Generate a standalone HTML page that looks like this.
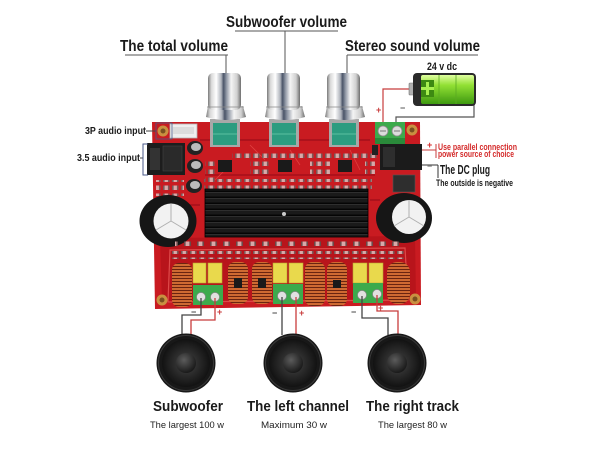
<!DOCTYPE html>
<html><head><meta charset="utf-8"><style>
html,body{margin:0;padding:0;background:#fff;}
svg{display:block}
text{font-family:"Liberation Sans",sans-serif;}
</style></head><body>
<svg width="600" height="450" viewBox="0 0 600 450" xmlns="http://www.w3.org/2000/svg">
<defs>
 <linearGradient id="chrome" x1="0" x2="1" y1="0" y2="0">
  <stop offset="0" stop-color="#7a7a7a"/>
  <stop offset="0.1" stop-color="#d8d8d8"/>
  <stop offset="0.25" stop-color="#ffffff"/>
  <stop offset="0.4" stop-color="#b0b4bc"/>
  <stop offset="0.47" stop-color="#4a5468"/>
  <stop offset="0.55" stop-color="#8a92a0"/>
  <stop offset="0.7" stop-color="#f4f4f4"/>
  <stop offset="0.88" stop-color="#d0d0d0"/>
  <stop offset="1" stop-color="#6e6e6e"/>
 </linearGradient>
 <radialGradient id="cone" cx="0.5" cy="0.5" r="0.5">
  <stop offset="0" stop-color="#555"/>
  <stop offset="0.45" stop-color="#2e2e2e"/>
  <stop offset="1" stop-color="#121212"/>
 </radialGradient>
 <radialGradient id="cap" cx="0.4" cy="0.35" r="0.7">
  <stop offset="0" stop-color="#5c5c5c"/>
  <stop offset="1" stop-color="#151515"/>
 </radialGradient>
 <linearGradient id="batt" x1="0" x2="0" y1="0" y2="1">
  <stop offset="0" stop-color="#e0ffa0"/>
  <stop offset="0.35" stop-color="#92e034"/>
  <stop offset="1" stop-color="#3e9a10"/>
 </linearGradient>
 <pattern id="smd" width="9" height="8" patternUnits="userSpaceOnUse">
  <rect x="1" y="1.5" width="6.5" height="4.5" fill="#d8a8a8"/>
  <rect x="1" y="1.5" width="1.6" height="4.5" fill="#7a5a5a"/>
  <rect x="5.9" y="1.5" width="1.6" height="4.5" fill="#7a5a5a"/>
 </pattern>
 <pattern id="smd2" width="13" height="8" patternUnits="userSpaceOnUse">
  <rect x="2" y="1.5" width="7" height="4.5" fill="#d8a8a8"/>
  <rect x="2" y="1.5" width="1.6" height="4.5" fill="#6a4a4a"/>
  <rect x="7.4" y="1.5" width="1.6" height="4.5" fill="#6a4a4a"/>
 </pattern>
 <pattern id="coil" width="4" height="3" patternUnits="userSpaceOnUse">
  <rect width="4" height="3" fill="#cf6a32"/>
  <rect y="2" width="4" height="1" fill="#6a2410"/>
 </pattern>
 <pattern id="fins" width="10" height="6" patternUnits="userSpaceOnUse">
  <rect width="10" height="6" fill="#1a1a1a"/>
  <rect y="4.5" width="10" height="1.5" fill="#050505"/>
  <rect y="0" width="10" height="0.8" fill="#333"/>
 </pattern>
</defs>

<rect width="600" height="450" fill="#fff"/>

<!-- Top labels -->
<text x="226" y="27" font-size="16" font-weight="bold" fill="#1a1a1a" textLength="121" lengthAdjust="spacingAndGlyphs">Subwoofer volume</text>
<line x1="235" y1="31" x2="338" y2="31" stroke="#555" stroke-width="1"/>
<line x1="285" y1="31" x2="285" y2="74" stroke="#555" stroke-width="1"/>
<text x="120" y="51" font-size="16" font-weight="bold" fill="#1a1a1a" textLength="108" lengthAdjust="spacingAndGlyphs">The total volume</text>
<line x1="125" y1="55" x2="228" y2="55" stroke="#555" stroke-width="1"/>
<line x1="226" y1="55" x2="226" y2="74" stroke="#555" stroke-width="1"/>
<text x="345" y="51" font-size="16" font-weight="bold" fill="#1a1a1a" textLength="135" lengthAdjust="spacingAndGlyphs">Stereo sound volume</text>
<line x1="347" y1="55" x2="478" y2="55" stroke="#555" stroke-width="1"/>
<line x1="347" y1="55" x2="347" y2="74" stroke="#555" stroke-width="1"/>

<!-- battery -->
<text x="427" y="70" font-size="11" font-weight="bold" fill="#1a1a1a" textLength="30" lengthAdjust="spacingAndGlyphs">24 v dc</text>
<polyline points="413,89 383,89 383,128" fill="none" stroke="#c83c3c" stroke-width="1.2"/>
<polyline points="475,90 474,90 474,117 396,117 396,128" fill="none" stroke="#555" stroke-width="1.2"/>
<rect x="409" y="83" width="6" height="12" rx="1" fill="#b0b0b0" stroke="#777" stroke-width="0.6"/>
<rect x="413" y="73" width="63" height="33" rx="4" fill="#2a2a2a"/>
<rect x="421" y="75" width="53" height="29" rx="2" fill="url(#batt)"/>
<rect x="421" y="80" width="13" height="17" fill="#3d8a12"/>
<rect x="426" y="82" width="3" height="13" fill="#a8f050"/>
<rect x="421" y="87" width="13" height="3" fill="#a8f050"/>
<line x1="439" y1="75" x2="439" y2="104" stroke="#5aaa22" stroke-width="0.8"/>
<line x1="456" y1="75" x2="456" y2="104" stroke="#5aaa22" stroke-width="0.8"/>
<line x1="421" y1="98" x2="474" y2="98" stroke="#5aaa22" stroke-width="0.6"/>
<text x="376" y="113" font-size="9" font-weight="bold" fill="#c83c3c">+</text>
<text x="400" y="111" font-size="9" font-weight="bold" fill="#555">−</text>

<!-- Board -->
<polygon points="152,122 420,122 421,305 155,309" fill="#c91b21"/>
<polygon points="160,238 415,236 416,300 162,303" fill="#b8141b"/>
<path d="M170,250 L405,248 L408,300 L168,302 Z" fill="none" stroke="#de4a4a" stroke-width="1.2"/>
<path d="M200,140 L370,140 M205,175 L375,175 M175,205 L200,205 M370,200 L380,200" stroke="#a5101a" stroke-width="1.5" fill="none"/>
<path d="M230,165 L215,180 M290,150 L300,165 M350,150 L360,170 M250,145 L265,160" stroke="#e04040" stroke-width="0.8" fill="none"/>

<!-- top connectors -->
<rect x="170" y="124" width="27" height="14" fill="#eeeeee" stroke="#b5b5b5" stroke-width="0.8"/>
<rect x="173" y="127" width="21" height="7" fill="#dcdcdc"/>
<rect x="147" y="143" width="38" height="32" fill="#1d1d1d"/>
<rect x="150" y="148" width="10" height="22" fill="#333"/>
<rect x="163" y="146" width="19" height="25" fill="#2a2a2a" stroke="#444" stroke-width="0.6"/>
<!-- small caps left -->
<ellipse cx="195" cy="148" rx="8" ry="7" fill="#222"/><ellipse cx="196" cy="147" rx="5" ry="4" fill="#bbb"/>
<ellipse cx="195" cy="166" rx="8" ry="7" fill="#222"/><ellipse cx="196" cy="165" rx="5" ry="4" fill="#bbb"/>
<ellipse cx="194" cy="186" rx="8" ry="7" fill="#222"/><ellipse cx="195" cy="185" rx="5" ry="4" fill="#bbb"/>
<rect x="156" y="180" width="28" height="16" fill="url(#smd)"/>

<!-- SMD rows -->
<rect x="232" y="150" width="146" height="9" fill="url(#smd)"/>
<rect x="204" y="179" width="168" height="10" fill="url(#smd)"/>
<rect x="205" y="160" width="10" height="20" fill="url(#smd)"/>
<rect x="250" y="160" width="20" height="14" fill="url(#smd)"/>
<rect x="310" y="160" width="20" height="14" fill="url(#smd)"/>
<rect x="365" y="158" width="10" height="18" fill="url(#smd)"/>
<!-- chips -->
<rect x="218" y="160" width="14" height="12" fill="#1a1a1a"/>
<rect x="278" y="160" width="14" height="12" fill="#1a1a1a"/>
<rect x="338" y="160" width="14" height="12" fill="#1a1a1a"/>

<!-- top terminal & DC jack -->
<rect x="375" y="122" width="30" height="22" fill="#3caa4c"/>
<rect x="375" y="138" width="30" height="6" fill="#2a8a3a"/>
<circle cx="383" cy="131" r="5" fill="#dcdcdc" stroke="#888" stroke-width="0.8"/>
<circle cx="397" cy="131" r="5" fill="#dcdcdc" stroke="#888" stroke-width="0.8"/>
<line x1="380" y1="131" x2="386" y2="131" stroke="#777"/>
<line x1="394" y1="131" x2="400" y2="131" stroke="#777"/>
<rect x="380" y="144" width="42" height="26" fill="#1b1b1b"/>
<rect x="383" y="147" width="12" height="20" fill="#2e2e2e"/>
<rect x="393" y="175" width="22" height="17" fill="#2e2e2e" stroke="#555" stroke-width="0.6"/>
<rect x="372" y="145" width="6" height="10" fill="#222"/>

<!-- standoffs -->
<circle cx="163" cy="131" r="5.5" fill="#c99040"/><circle cx="163" cy="131" r="2.5" fill="#7a5020"/>
<circle cx="412" cy="130" r="5.5" fill="#c99040"/><circle cx="412" cy="130" r="2.5" fill="#7a5020"/>
<circle cx="162" cy="300" r="5.5" fill="#c99040"/><circle cx="162" cy="300" r="2.5" fill="#7a5020"/>
<circle cx="415" cy="299" r="5.5" fill="#c99040"/><circle cx="415" cy="299" r="2.5" fill="#7a5020"/>

<!-- heatsink -->
<rect x="205" y="189" width="163" height="48" fill="url(#fins)"/>
<rect x="205" y="189" width="163" height="48" fill="none" stroke="#000" stroke-width="0.8"/>
<circle cx="284" cy="214" r="2" fill="#ccc"/>

<!-- big caps -->
<ellipse cx="168" cy="221" rx="28.5" ry="26" fill="#161616"/>
<circle cx="171" cy="221" r="17.5" fill="#f2f2f2"/>
<path d="M171,221 L171,204 M171,221 L156,230 M171,221 L186,230" stroke="#b0b0b0" stroke-width="1"/>
<ellipse cx="404" cy="218" rx="28" ry="25" fill="#161616"/>
<circle cx="409" cy="217" r="17" fill="#f2f2f2"/>
<path d="M409,217 L409,200 M409,217 L394,226 M409,217 L424,226" stroke="#b0b0b0" stroke-width="1"/>

<!-- bottom SMD -->
<rect x="175" y="241" width="225" height="8" fill="url(#smd2)"/>
<rect x="172" y="251" width="232" height="8" fill="url(#smd)"/>

<!-- coils -->
<rect x="172" y="263" width="20" height="44" rx="7" fill="url(#coil)"/>
<rect x="228" y="262" width="20" height="42" rx="7" fill="url(#coil)"/>
<rect x="234" y="278" width="8" height="10" fill="#1a1a1a"/>
<rect x="252" y="262" width="20" height="42" rx="7" fill="url(#coil)"/>
<rect x="258" y="278" width="8" height="10" fill="#1a1a1a"/>
<rect x="305" y="262" width="20" height="44" rx="7" fill="url(#coil)"/>
<rect x="327" y="262" width="20" height="44" rx="7" fill="url(#coil)"/>
<rect x="333" y="280" width="8" height="8" fill="#1a1a1a"/>
<rect x="387" y="262" width="23" height="42" rx="10" fill="url(#coil)"/>

<!-- yellow caps -->
<rect x="193" y="263" width="13" height="20" fill="#e9d94c" stroke="#b8a830" stroke-width="0.6"/>
<rect x="208" y="263" width="14" height="20" fill="#e9d94c" stroke="#b8a830" stroke-width="0.6"/>
<rect x="273" y="263" width="14" height="20" fill="#e9d94c" stroke="#b8a830" stroke-width="0.6"/>
<rect x="289" y="263" width="14" height="20" fill="#e9d94c" stroke="#b8a830" stroke-width="0.6"/>
<rect x="353" y="263" width="14" height="20" fill="#e9d94c" stroke="#b8a830" stroke-width="0.6"/>
<rect x="369" y="263" width="14" height="20" fill="#e9d94c" stroke="#b8a830" stroke-width="0.6"/>

<!-- bottom terminals -->
<rect x="193" y="285" width="30" height="20" fill="#3caa4c"/>
<rect x="273" y="284" width="30" height="20" fill="#3caa4c"/>
<rect x="353" y="283" width="30" height="20" fill="#3caa4c"/>
<circle cx="201" cy="297" r="4.5" fill="#e0e0e0" stroke="#888" stroke-width="0.7"/>
<circle cx="215" cy="297" r="4.5" fill="#e0e0e0" stroke="#888" stroke-width="0.7"/>
<circle cx="282" cy="296" r="4.5" fill="#e0e0e0" stroke="#888" stroke-width="0.7"/>
<circle cx="295" cy="296" r="4.5" fill="#e0e0e0" stroke="#888" stroke-width="0.7"/>
<circle cx="362" cy="295" r="4.5" fill="#e0e0e0" stroke="#888" stroke-width="0.7"/>
<circle cx="377" cy="294" r="4.5" fill="#e0e0e0" stroke="#888" stroke-width="0.7"/>

<!-- pots -->
<g>
 <rect x="210" y="119" width="30" height="28" fill="#a8a8a8"/><rect x="213" y="123" width="24" height="22" fill="#2c9c80"/><line x1="213" y1="134" x2="237" y2="134" stroke="#5ac0a0" stroke-width="1"/>
 <rect x="269" y="119" width="30" height="28" fill="#a8a8a8"/><rect x="272" y="123" width="24" height="22" fill="#2c9c80"/><line x1="272" y1="134" x2="296" y2="134" stroke="#5ac0a0" stroke-width="1"/>
 <rect x="329" y="119" width="30" height="28" fill="#a8a8a8"/><rect x="332" y="123" width="24" height="22" fill="#2c9c80"/><line x1="332" y1="134" x2="356" y2="134" stroke="#5ac0a0" stroke-width="1"/>
</g>
<!-- knobs -->
<g id="k1">
 <path d="M208,106 L206,117 Q226,123 246,117 L243,106 Z" fill="url(#chrome)"/>
 <rect x="208" y="73" width="33" height="37" rx="5" fill="url(#chrome)"/>
 <line x1="207" y1="107" x2="244" y2="107" stroke="#8a8a8a" stroke-width="0.8"/>
</g>
<g transform="translate(59,0)">
 <path d="M208,106 L206,117 Q226,123 246,117 L243,106 Z" fill="url(#chrome)"/>
 <rect x="208" y="73" width="33" height="37" rx="5" fill="url(#chrome)"/>
 <line x1="207" y1="107" x2="244" y2="107" stroke="#8a8a8a" stroke-width="0.8"/>
</g>
<g transform="translate(119,0)">
 <path d="M208,106 L206,117 Q226,123 246,117 L243,106 Z" fill="url(#chrome)"/>
 <rect x="208" y="73" width="33" height="37" rx="5" fill="url(#chrome)"/>
 <line x1="207" y1="107" x2="244" y2="107" stroke="#8a8a8a" stroke-width="0.8"/>
</g>

<!-- left labels -->
<text x="85" y="134" font-size="10.5" font-weight="bold" fill="#1a1a1a" textLength="61" lengthAdjust="spacingAndGlyphs">3P audio input</text>
<line x1="146" y1="131" x2="156" y2="131" stroke="#444" stroke-width="1"/>
<rect x="156" y="123" width="16" height="16" fill="none" stroke="#4a5a8a" stroke-width="0.8"/>
<text x="77" y="161" font-size="10.5" font-weight="bold" fill="#1a1a1a" textLength="63" lengthAdjust="spacingAndGlyphs">3.5 audio input</text>
<line x1="140" y1="158" x2="143" y2="158" stroke="#444" stroke-width="1"/>
<polyline points="148,144 143,144 143,175 148,175" fill="none" stroke="#4a5a8a" stroke-width="1"/>

<!-- right labels -->
<line x1="422" y1="150" x2="436" y2="150" stroke="#c83c3c" stroke-width="1"/>
<line x1="436" y1="144" x2="436" y2="158" stroke="#c83c3c" stroke-width="1"/>
<text x="427" y="148" font-size="9" font-weight="bold" fill="#d42a2a">+</text>
<text x="438" y="150" font-size="9" font-weight="bold" fill="#d42a2a" textLength="79" lengthAdjust="spacingAndGlyphs">Use parallel connection</text>
<text x="438" y="157" font-size="9" font-weight="bold" fill="#d42a2a" textLength="76" lengthAdjust="spacingAndGlyphs">power source of choice</text>
<line x1="422" y1="165" x2="438" y2="165" stroke="#333" stroke-width="1"/>
<line x1="438" y1="165" x2="438" y2="178" stroke="#333" stroke-width="1"/>
<text x="427" y="169" font-size="9" fill="#444">−</text>
<text x="440" y="174" font-size="13" font-weight="bold" fill="#1a1a1a" textLength="50" lengthAdjust="spacingAndGlyphs">The DC plug</text>
<text x="436" y="186" font-size="9" font-weight="bold" fill="#1a1a1a" textLength="77" lengthAdjust="spacingAndGlyphs">The outside is negative</text>

<!-- speaker wires -->
<polyline points="201,298 201,315 182,315 182,335" fill="none" stroke="#444" stroke-width="1.3"/>
<polyline points="215,298 215,320 191,320 191,335" fill="none" stroke="#c83c3c" stroke-width="1.3"/>
<polyline points="282,297 282,335" fill="none" stroke="#444" stroke-width="1.3"/>
<polyline points="296,297 296,335" fill="none" stroke="#c83c3c" stroke-width="1.3"/>
<polyline points="362,296 362,318 388,318 388,335" fill="none" stroke="#444" stroke-width="1.3"/>
<polyline points="377,295 377,311 398,311 398,335" fill="none" stroke="#c83c3c" stroke-width="1.3"/>
<text x="191" y="315" font-size="9" font-weight="bold" fill="#444">−</text>
<text x="217" y="315" font-size="9" font-weight="bold" fill="#c83c3c">+</text>
<text x="272" y="316" font-size="9" font-weight="bold" fill="#444">−</text>
<text x="299" y="316" font-size="9" font-weight="bold" fill="#c83c3c">+</text>
<text x="351" y="315" font-size="9" font-weight="bold" fill="#444">−</text>
<text x="378" y="311" font-size="9" font-weight="bold" fill="#c83c3c">+</text>

<!-- speakers -->
<g transform="translate(186,363)">
 <circle r="29.5" fill="#181818"/><circle r="27.5" fill="none" stroke="#3a3a3a" stroke-width="1"/>
 <circle r="24" fill="url(#cone)"/><circle r="10" fill="url(#cap)"/>
</g>
<g transform="translate(293,363)">
 <circle r="29.5" fill="#181818"/><circle r="27.5" fill="none" stroke="#3a3a3a" stroke-width="1"/>
 <circle r="24" fill="url(#cone)"/><circle r="10" fill="url(#cap)"/>
</g>
<g transform="translate(397,363)">
 <circle r="29.5" fill="#181818"/><circle r="27.5" fill="none" stroke="#3a3a3a" stroke-width="1"/>
 <circle r="24" fill="url(#cone)"/><circle r="10" fill="url(#cap)"/>
</g>

<!-- bottom labels -->
<text x="153" y="411" font-size="15" font-weight="bold" fill="#1a1a1a" textLength="70" lengthAdjust="spacingAndGlyphs">Subwoofer</text>
<text x="247" y="411" font-size="15" font-weight="bold" fill="#1a1a1a" textLength="102" lengthAdjust="spacingAndGlyphs">The left channel</text>
<text x="366" y="411" font-size="15" font-weight="bold" fill="#1a1a1a" textLength="93" lengthAdjust="spacingAndGlyphs">The right track</text>
<text x="150" y="428" font-size="9.5" fill="#222" textLength="74" lengthAdjust="spacingAndGlyphs">The largest 100 w</text>
<text x="261" y="428" font-size="9.5" fill="#222" textLength="66" lengthAdjust="spacingAndGlyphs">Maximum 30 w</text>
<text x="378" y="428" font-size="9.5" fill="#222" textLength="69" lengthAdjust="spacingAndGlyphs">The largest 80 w</text>
</svg>
</body></html>
